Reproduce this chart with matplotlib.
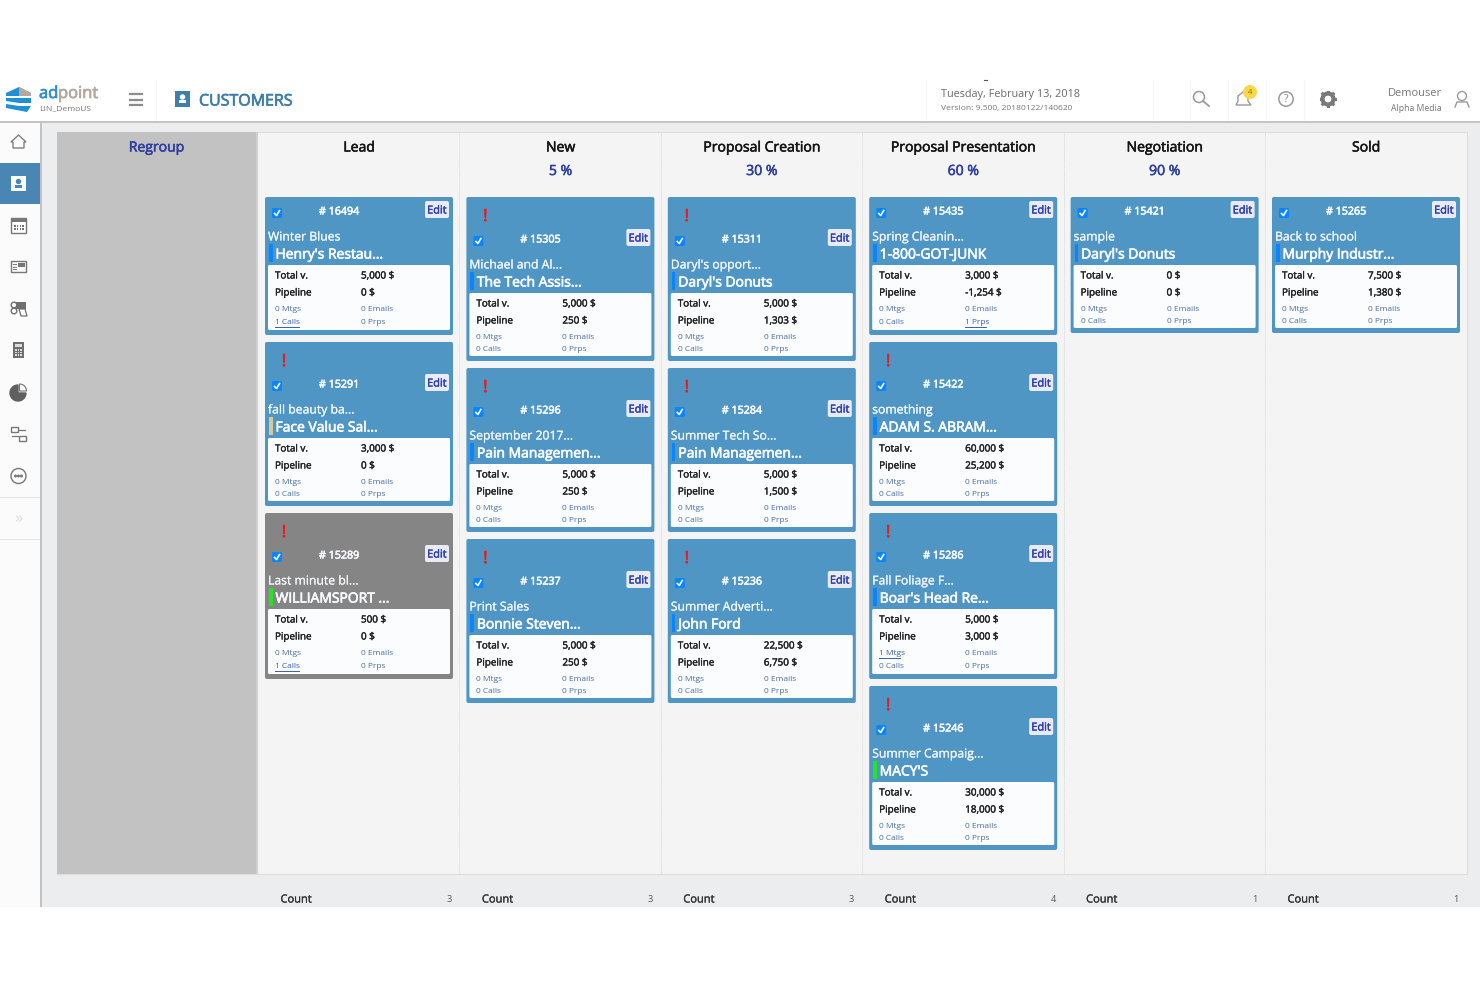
import matplotlib
matplotlib.use('Agg')
import matplotlib.pyplot as plt
import matplotlib.patheffects as pe
from matplotlib.patches import Rectangle, FancyBboxPatch, Circle, Wedge, Polygon

plt.rcParams['font.family'] = ['Open Sans', 'DejaVu Sans']

# stage columns
stages = ['Lead', 'New', 'Proposal Creation', 'Proposal Presentation', 'Negotiation', 'Sold']
percents = ['', '5 %', '30 %', '60 %', '90 %', '']
counts = [3, 3, 3, 4, 1, 1]

# cards of each stage, top to bottom
card_ids = [
    [16494, 15291, 15289],
    [15305, 15296, 15237],
    [15311, 15284, 15236],
    [15435, 15422, 15286, 15246],
    [15421],
    [15265],
]
card_titles = [
    ['Winter Blues', 'fall beauty ba...', 'Last minute bl...'],
    ['Michael and Al...', 'September 2017...', 'Print Sales'],
    ["Daryl's opport...", 'Summer Tech So...', 'Summer Adverti...'],
    ['Spring Cleanin...', 'something', 'Fall Foliage F...', 'Summer Campaig...'],
    ['sample'],
    ['Back to school'],
]
card_customers = [
    ["Henry's Restau...", 'Face Value Sal...', 'WILLIAMSPORT ...'],
    ['The Tech Assis...', 'Pain Managemen...', 'Bonnie Steven...'],
    ["Daryl's Donuts", 'Pain Managemen...', 'John Ford'],
    ['1-800-GOT-JUNK', 'ADAM S. ABRAM...', "Boar's Head Re...", "MACY'S"],
    ["Daryl's Donuts"],
    ['Murphy Industr...'],
]
card_totals = [
    ['5,000', '3,000', '500'],
    ['5,000', '5,000', '5,000'],
    ['5,000', '5,000', '22,500'],
    ['3,000', '60,000', '5,000', '30,000'],
    ['0'],
    ['7,500'],
]
card_pipelines = [
    ['0', '0', '0'],
    ['250', '250', '250'],
    ['1,303', '1,500', '6,750'],
    ['-1,254', '25,200', '3,000', '18,000'],
    ['0'],
    ['1,380'],
]
card_flags = [
    [False, True, True],
    [True, True, True],
    [True, True, True],
    [False, True, True, True],
    [False],
    [False],
]
card_tags = [
    ['blue', 'tan', 'green'],
    ['blue', 'blue', 'blue'],
    ['blue', 'blue', 'blue'],
    ['blue', 'blue', 'blue', 'green'],
    ['blue'],
    ['blue'],
]
# activity counts: mtgs, calls, emails, prps
card_activity = [
    [(0, 1, 0, 0), (0, 0, 0, 0), (0, 1, 0, 0)],
    [(0, 0, 0, 0), (0, 0, 0, 0), (0, 0, 0, 0)],
    [(0, 0, 0, 0), (0, 0, 0, 0), (0, 0, 0, 0)],
    [(0, 0, 0, 1), (0, 0, 0, 0), (1, 0, 0, 0), (0, 0, 0, 0)],
    [(0, 0, 0, 0)],
    [(0, 0, 0, 0)],
]
grey_card = 15289

BLUE = '#4f96c4'
GREY = '#858585'
TAGS = {'blue': '#0a84ff', 'tan': '#d8c79a', 'green': '#22e622'}
LINK = '#4a6fa5'
NAVY = '#2f3f9e'

fig = plt.figure(figsize=(14.8, 9.87), dpi=100)
ax = fig.add_axes([0, 0, 1, 1])
ax.set_xlim(0, 1480)
ax.set_ylim(986, -1)
ax.axis('off')


def rect(x, y, w, h, color, z=1):
    ax.add_patch(Rectangle((x, y), w, h, facecolor=color, edgecolor='none', zorder=z))


def rounded(x, y, w, h, color, r=2, z=2):
    ax.add_patch(FancyBboxPatch((x + r, y + r), w - 2 * r, h - 2 * r, boxstyle='round,pad=%s' % r,
                                facecolor=color, edgecolor='none', zorder=z))


# stroke = fake heavier weight, the installed Open Sans only gives regular and bold here
def text(x, y, s, size, color='#222222', ha='left', stroke=0, z=6):
    t = ax.text(x, y, s, fontsize=size, color=color, ha=ha, va='center', zorder=z)
    if stroke:
        t.set_path_effects([pe.withStroke(linewidth=stroke, foreground=color)])
    return t


def link(x, y, s):
    text(x, y, s, 6.0, '#3b5fa8')
    ax.plot([x, x + len(s) * 3.45], [y + 5, y + 5], color='#3b5fa8', lw=0.7, zorder=6)


# page background
rect(0, 79, 1480, 828, '#ecedee', 0)
rect(0, 79, 1480, 42, '#ffffff', 1)
rect(0, 120.5, 1480, 2, '#c4c4c4', 2)
rect(0, 122, 40, 785, '#fbfbfb', 1)
rect(40, 122, 2, 785, '#c2c2c2', 2)
rect(0, 163, 40, 41, '#4a86b4', 2)
for y in [497, 539]:
    rect(0, y, 40, 1, '#e3e3e3', 2)

# header separators
for x in [156, 926, 1153, 1190, 1228, 1266, 1304]:
    ax.plot([x, x], [80, 120], color='#f6f6f6', lw=0.8, zorder=2)

# logo
ax.add_patch(Polygon([(6, 93), (19, 87), (31, 93), (31, 96), (6, 96)], facecolor='#1f8fd6', zorder=3))
ax.add_patch(Polygon([(19, 87), (31, 93), (31, 96), (19, 96)], facecolor='#b7a79d', zorder=3))
ax.add_patch(Polygon([(6, 98), (31, 98), (31, 103), (19, 103), (6, 101)], facecolor='#1f8fd6', zorder=3))
ax.add_patch(Polygon([(6, 104), (19, 106), (31, 106), (27, 112), (6, 108)], facecolor='#1f8fd6', zorder=3))
text(39, 94, 'ad', 11.9, '#2f8fd0', stroke=0.5)
text(58, 94, 'point', 11.9, '#b4a79e', stroke=0.5)
text(39, 108, 'LIN_DemoUS', 6.1, '#777777')

# hamburger and page title
for y in [94, 99.5, 105]:
    ax.plot([130, 142], [y, y], color='#8c8c8c', lw=1.6, zorder=3)
rect(175, 91, 15, 16, '#3f7fab', 3)
ax.add_patch(Circle((182.5, 97), 2, color='white', zorder=4))
rect(179, 100, 7, 3, '#ffffff', 4)
text(199, 101.5, 'CUSTOMERS', 11.5, '#3d7ea9', stroke=0.5)

# header right side
ax.plot([984, 987], [79.5, 79.5], color='#555555', lw=0.8, zorder=3)
text(941, 93, 'Tuesday, February 13, 2018', 7.8, '#6b6b6b')
text(941, 107.5, 'Version: 9.500, 20180122/140620', 6.1, '#777777')
ax.add_patch(Circle((1199, 97), 5.5, fill=False, ec='#9a9a9a', lw=1.1, zorder=3))
ax.plot([1203, 1209], [101, 106], color='#9a9a9a', lw=1.3, zorder=3)
ax.add_patch(Polygon([(1236, 105), (1238, 101), (1238, 96), (1243, 92), (1248, 96), (1248, 101), (1251, 105)],
                     fill=False, ec='#9a9a9a', lw=1, zorder=3))
ax.add_patch(Circle((1250, 92), 6.3, color='#f8d84a', zorder=4))
text(1250, 92, '4', 5.5, '#8a6d00', ha='center', z=5)
ax.add_patch(Circle((1286, 99), 7.2, fill=False, ec='#9a9a9a', lw=1.1, zorder=3))
text(1286, 98.5, '?', 7.5, '#8a8a8a', ha='center')
ax.add_patch(Circle((1328, 99), 5.5, fill=False, ec='#7a7a7a', lw=3, zorder=3))
for dx, dy in [(0, -7), (0, 7), (-7, 0), (7, 0), (-5, -5), (5, 5), (-5, 5), (5, -5)]:
    ax.plot([1328 + dx * 0.8, 1328 + dx * 1.05], [99 + dy * 0.8, 99 + dy * 1.05], color='#7a7a7a', lw=2.2, zorder=3)
text(1442, 93, 'Demouser', 7.9, '#777777', ha='right')
text(1442, 107.5, 'Alpha Media', 6.2, '#777777', ha='right')
ax.add_patch(Circle((1462, 96), 4.5, fill=False, ec='#9a9a9a', lw=1, zorder=3))
ax.plot([1455, 1457, 1467, 1469], [107, 102, 102, 107], color='#9a9a9a', lw=1, zorder=3)

# sidebar icons
ax.add_patch(Polygon([(11, 142), (18.5, 135), (26, 142), (24, 142), (24, 148), (13, 148), (13, 142)],
                     fill=False, ec='#808080', lw=1, zorder=3))
rect(11, 176, 15, 15, '#ffffff', 3)
ax.add_patch(Circle((18.5, 181.5), 2, color='#4a86b4', zorder=4))
rect(15, 185, 7, 2.5, '#4a86b4', 4)
ax.add_patch(Rectangle((11, 218), 15, 15, facecolor='white', edgecolor='#777777', lw=1, zorder=3))
rect(11, 218, 15, 4, '#777777', 4)
for ix in range(4):
    for iy in range(2):
        rect(14 + ix * 2.8, 225 + iy * 3, 1.5, 1.5, '#777777', 4)
ax.add_patch(Rectangle((11, 261), 15, 11, facecolor='none', edgecolor='#777777', lw=1, zorder=3))
rect(18, 263, 7, 4, '#777777', 3)
for i in range(3):
    ax.plot([13, 16], [264 + i * 2.5, 264 + i * 2.5], color='#777777', lw=0.7, zorder=3)
rect(14, 302, 12, 7, '#6f6f6f', 3)
ax.add_patch(Circle((14, 305), 2.8, fc='white', ec='#6f6f6f', lw=1, zorder=4))
ax.add_patch(Circle((14, 311), 2.8, fc='white', ec='#6f6f6f', lw=1, zorder=4))
ax.add_patch(Polygon([(19, 309), (25, 309), (27, 316), (21, 316)], fc='white', ec='#6f6f6f', lw=0.9, zorder=4))
rect(13, 342, 11, 16, '#6f6f6f', 3)
rect(15, 344, 7, 3, '#dddddd', 4)
for ix in range(3):
    for iy in range(3):
        rect(15 + ix * 2.6, 349 + iy * 2.7, 1.5, 1.5, '#dddddd', 4)
ax.add_patch(Wedge((18, 393), 8, 0, 270, color='#5f5f5f', zorder=3))
ax.add_patch(Wedge((19.5, 391), 7, 270, 360, fc='white', ec='#6f6f6f', lw=0.8, zorder=3))
for bx, by in [(11, 427), (19, 436)]:
    ax.add_patch(Rectangle((bx, by), 7, 5, facecolor='none', edgecolor='#777777', lw=1, zorder=3))
for bx, by in [(19, 430), (12, 436)]:
    ax.plot([bx, bx + 6], [by, by], color='#777777', lw=0.9, zorder=3)
ax.add_patch(Circle((18.5, 476), 7.5, fill=False, ec='#777777', lw=1, zorder=3))
for dx in [-3, 0, 3]:
    ax.add_patch(Circle((18.5 + dx, 476), 0.8, color='#777777', zorder=3))
text(18.5, 518, '\u00bb', 12, '#dcdcdc', ha='center')

# regroup column and board
rect(57, 132, 199, 742, '#c2c2c2', 1)
rect(256, 132, 2, 742, '#cfd0d1', 1)
rect(258, 132, 1209, 742, '#f4f4f4', 1)
ax.plot([57, 1467, 1467], [874, 874, 132], color='#dddddd', lw=0.8, zorder=1.5)
ax.plot([258, 1467], [132, 132], color='#dddddd', lw=0.8, zorder=1.5)
text(156.5, 148, 'Regroup', 10.1, NAVY, ha='center', stroke=0.4)

col_left = 258
col_step = 201.4
card_w = 188

for c, stage in enumerate(stages):
    x0 = col_left + c * col_step
    mid = x0 + col_step / 2 + 0.5
    if c > 0:
        ax.plot([x0, x0], [132, 874], color='#d9d9d9', lw=0.7, ls=(0, (1.2, 1)), zorder=1.5)
    text(mid, 148, stage, 10.1, '#151515', ha='center', stroke=0.4)
    if percents[c]:
        text(mid, 171.5, percents[c], 10.1, NAVY, ha='center', stroke=0.4)
    text(x0 + 22.5, 900, 'Count', 8.0, '#333333', stroke=0.2)
    text(x0 + 193.5, 898, str(counts[c]), 6.6, '#555555', ha='right')

    cx = x0 + 7
    y = 197
    for i, cid in enumerate(card_ids[c]):
        flagged = card_flags[c][i]
        mtgs, calls, emails, prps = card_activity[c][i]
        has_link = mtgs > 0 or calls > 0 or prps > 0
        off = 28 if flagged else 0
        h = 136 + off + (2 if has_link else 0)
        face = GREY if cid == grey_card else BLUE
        rounded(cx, y, card_w, h, face, r=2, z=2)
        if flagged:
            text(cx + 19, y + 20, '!', 12, '#f01818', ha='center', stroke=0.5)
        ty = y + off
        # checkbox
        rounded(cx + 7, ty + 11, 10, 10, '#0a84ff', r=1.5, z=3)
        ax.plot([cx + 9.5, cx + 11.5, cx + 14.5], [ty + 16.5, ty + 18.5, ty + 13.5], color='white', lw=1.2, zorder=4)
        text(cx + 54, ty + 15, '# %d' % cid, 7.7, '#f5f8fb', stroke=0.45)
        rounded(cx + 160, ty + 4, 24, 17, '#e8ecf2', r=2, z=3)
        text(cx + 172, ty + 14, 'Edit', 7.9, '#2f3fb0', ha='center', stroke=0.3)
        text(cx + 3, ty + 40, card_titles[c][i], 8.8, '#f2f6fa', stroke=0.15)
        rect(cx + 4, ty + 47, 3.5, 18, TAGS[card_tags[c][i]], 3)
        text(cx + 10.5, ty + 58, card_customers[c][i], 10.0, '#f7f9fb', stroke=0.5)
        rounded(cx + 3, ty + 68, card_w - 6, h - off - 73, '#fbfcfe', r=1.5, z=3)
        text(cx + 10, ty + 79, 'Total v.', 7.1, '#222222', stroke=0.25)
        text(cx + 10, ty + 96, 'Pipeline', 7.1, '#222222', stroke=0.25)
        text(cx + 96, ty + 79, card_totals[c][i] + ' $', 7.1, '#222222', stroke=0.3)
        text(cx + 96, ty + 96, card_pipelines[c][i] + ' $', 7.1, '#222222', stroke=0.3)
        mid_row = ty + 111.5
        low_row = ty + (124.5 if has_link else 123.5)
        if mtgs:
            link(cx + 10, mid_row, '%d Mtgs' % mtgs)
        else:
            text(cx + 10, mid_row, '%d Mtgs' % mtgs, 6.0, LINK)
        text(cx + 96, mid_row, '%d Emails' % emails, 6.0, LINK)
        if calls:
            link(cx + 10, low_row, '%d Calls' % calls)
        else:
            text(cx + 10, low_row, '%d Calls' % calls, 6.0, LINK)
        if prps:
            link(cx + 96, low_row, '%d Prps' % prps)
        else:
            text(cx + 96, low_row, '%d Prps' % prps, 6.0, LINK)
        y += h + 7

fig.savefig('out.png', dpi=100)
